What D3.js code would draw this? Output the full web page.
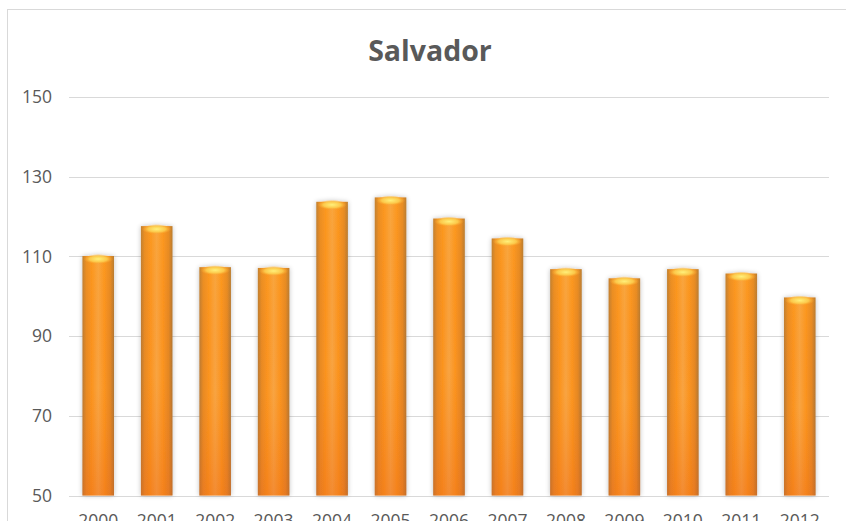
<!DOCTYPE html>
<html>
<head>
<meta charset="utf-8">
<script src="https://cdn.jsdelivr.net/npm/d3@7"></script>
<style>
  body { margin: 0; background: #fff; }
  svg { display: block; font-family: "Open Sans", sans-serif; }
</style>
</head>
<body>
<svg id="chart" width="846" height="521"></svg>
<script>
const years = ['2000', '2001', '2002', '2003', '2004', '2005', '2006', '2007', '2008', '2009', '2010', '2011', '2012']
const values = [110.1, 117.6, 107.3, 107.1, 123.7, 124.8, 119.5, 114.5, 106.8, 104.5, 106.8, 105.7, 99.7]
const yTicks = [50, 70, 90, 110, 130, 150]
const title = 'Salvador'

const width = 846
const height = 521
const margin = { left: 69, right: 17, top: 97, bottom: 25 }

const svg = d3.select('#chart')
const defs = svg.append('defs')

// horizontal shading of the "cylinder"
const side = defs.append('linearGradient').attr('id', 'barSide')
  .attr('x1', 0).attr('x2', 1).attr('y1', 0).attr('y2', 0)
side.selectAll('stop')
  .data([
    [0, '#b97a34'], [0.12, '#e88a24'], [0.3, '#fb941f'], [0.5, '#f8a442'],
    [0.7, '#fb941f'], [0.88, '#e48724'], [1, '#b07634']
  ])
  .enter().append('stop')
  .attr('offset', d => d[0]).attr('stop-color', d => d[1])

// redder lower part
const vert = defs.append('linearGradient').attr('id', 'barVert')
  .attr('x1', 0).attr('x2', 0).attr('y1', 0).attr('y2', 1)
vert.append('stop').attr('offset', 0).attr('stop-color', '#ffb020').attr('stop-opacity', 0.15)
vert.append('stop').attr('offset', 0.55).attr('stop-color', '#f07018').attr('stop-opacity', 0)
vert.append('stop').attr('offset', 1).attr('stop-color', '#e8601a').attr('stop-opacity', 0.35)

// yellow cap at top
const cap = defs.append('radialGradient').attr('id', 'barCap')
  .attr('cx', 0.5).attr('cy', 0.5).attr('r', 0.5)
cap.append('stop').attr('offset', 0).attr('stop-color', '#fff07a')
cap.append('stop').attr('offset', 0.6).attr('stop-color', '#fcc84a')
cap.append('stop').attr('offset', 1).attr('stop-color', '#f9a530').attr('stop-opacity', 0)

const shadow = defs.append('filter').attr('id', 'glow')
  .attr('x', '-30%').attr('y', '-10%').attr('width', '160%').attr('height', '120%')
shadow.append('feGaussianBlur').attr('in', 'SourceAlpha').attr('stdDeviation', 2.5)
shadow.append('feComponentTransfer').append('feFuncA').attr('type', 'linear').attr('slope', 0.25)
const merge = shadow.append('feMerge')
merge.append('feMergeNode')
merge.append('feMergeNode').attr('in', 'SourceGraphic')

// outer chart frame (runs off the page right and bottom)
svg.append('rect')
  .attr('x', 7.5).attr('y', 9.5)
  .attr('width', 860).attr('height', 540)
  .attr('fill', 'none').attr('stroke', '#d9d9d9')

const x = d3.scaleBand()
  .domain(years)
  .range([margin.left, width - margin.right])
  .paddingInner(0.46).paddingOuter(0.23)

const y = d3.scaleLinear()
  .domain([50, 150])
  .range([height - margin.bottom - 0.5, margin.top])

// gridlines
svg.append('g')
  .selectAll('line')
  .data(yTicks)
  .enter().append('line')
  .attr('x1', margin.left).attr('x2', width - margin.right)
  .attr('y1', d => Math.round(y(d)) + 0.5).attr('y2', d => Math.round(y(d)) + 0.5)
  .attr('stroke', '#d9d9d9').attr('stroke-width', 1)

// y axis labels
const yAxis = svg.append('g')
  .attr('transform', `translate(${margin.left - 17},0)`)
  .call(d3.axisLeft(y).tickValues(yTicks).tickSize(0).tickPadding(0))
yAxis.select('.domain').remove()
yAxis.selectAll('text')
  .attr('font-family', '"Open Sans", sans-serif')
  .attr('font-size', 17.5).attr('fill', '#595959')

// x axis labels (cut off by the page edge, as in the original)
const xAxis = svg.append('g')
  .attr('transform', `translate(0,${height - margin.bottom + 19})`)
  .call(d3.axisBottom(x).tickSize(0).tickPadding(0))
xAxis.select('.domain').remove()
xAxis.selectAll('text')
  .attr('font-family', '"Open Sans", sans-serif')
  .attr('font-size', 17.5).attr('fill', '#595959')

// bars
const bars = svg.append('g')
  .selectAll('g')
  .data(years.map((yr, i) => ({ yr, v: values[i] })))
  .enter().append('g')
  .attr('filter', 'url(#glow)')

bars.append('rect')
  .attr('x', d => x(d.yr)).attr('width', x.bandwidth())
  .attr('y', d => y(d.v)).attr('height', d => y(50) - y(d.v))
  .attr('fill', 'url(#barSide)')

bars.append('rect')
  .attr('x', d => x(d.yr)).attr('width', x.bandwidth())
  .attr('y', d => y(d.v)).attr('height', d => y(50) - y(d.v))
  .attr('fill', 'url(#barVert)')

bars.append('ellipse')
  .attr('cx', d => x(d.yr) + x.bandwidth() / 2)
  .attr('cy', d => y(d.v) + 3)
  .attr('rx', x.bandwidth() / 2 - 1).attr('ry', 5)
  .attr('fill', 'url(#barCap)')

// title
svg.append('text')
  .attr('x', 430).attr('y', 61)
  .attr('text-anchor', 'middle')
  .attr('font-family', '"Open Sans", sans-serif')
  .attr('font-weight', 'bold').attr('font-size', 28.5)
  .attr('fill', '#595959')
  .text(title)
</script>
</body>
</html>
